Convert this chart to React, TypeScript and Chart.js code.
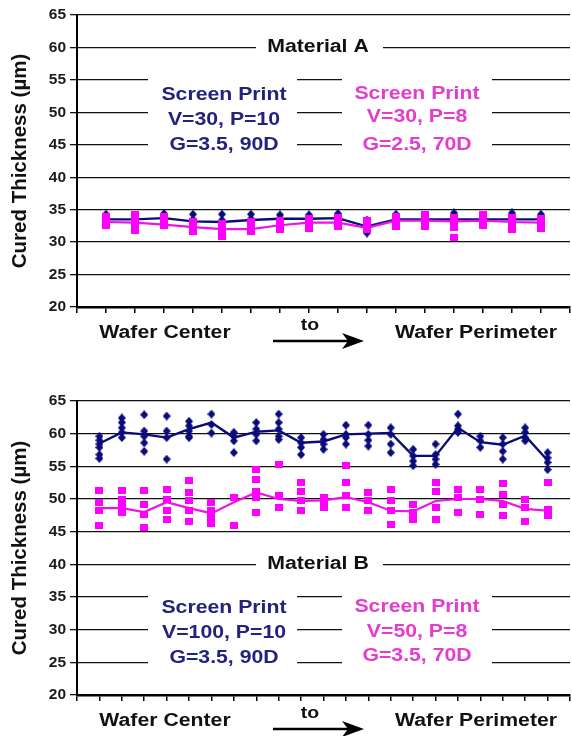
import React, { useEffect, useRef } from 'react';
import { Chart, registerables } from 'chart.js';

Chart.register(...registerables);

// ---------------- DATA ----------------
// Material A (top panel): 16 positions from wafer center to perimeter
const topNavySamples: number[][] = [
  [34.3, 33.8, 33.3], [34.0, 33.5, 33.0], [34.4, 33.8, 33.2], [34.3, 33.5, 32.9],
  [34.3, 33.4, 32.8], [34.3, 33.6, 32.9, 32.3], [34.2, 33.7, 33.2], [34.2, 33.7, 33.1],
  [34.4, 33.8, 33.2], [33.4, 32.7, 32.0, 31.4], [34.3, 33.7, 33.1], [34.0, 33.5, 33.1],
  [34.5, 33.8, 33.2, 32.6], [34.0, 33.5, 33.0], [34.5, 33.8, 33.2], [34.3, 33.7, 33.1],
];
const topNavyMean: number[] = [33.5, 33.5, 33.7, 33.2, 33.1, 33.4, 33.6, 33.6, 33.7, 32.4, 33.5, 33.5, 33.5, 33.5, 33.5, 33.5];
const topMagentaSamples: number[][] = [
  [33.9, 33.3, 32.6], [34.3, 33.6, 32.9, 32.2, 31.8], [33.9, 33.2, 32.5], [33.1, 32.4, 31.6],
  [32.9, 32.2, 31.5, 30.9], [33.2, 32.4, 31.6], [33.3, 32.6, 32.0], [33.6, 32.8, 32.1],
  [33.8, 33.0, 32.4], [33.3, 32.5, 31.9], [34.0, 33.3, 32.4], [34.2, 33.4, 32.4],
  [33.8, 33.0, 32.2, 30.7], [34.2, 33.4, 32.5], [33.8, 33.0, 32.0], [33.7, 32.9, 32.1],
];
const topMagentaMean: number[] = [33.1, 33.0, 32.7, 32.3, 32.0, 32.0, 32.6, 33.0, 33.0, 32.2, 33.3, 33.3, 33.2, 33.3, 33.1, 33.0];

// Material B (bottom panel): 21 positions
const bottomNavySamples: number[][] = [
  [59.6, 59.0, 58.4, 57.9, 56.8, 56.2], [62.4, 61.7, 60.9, 60.2, 59.4], [62.9, 60.4, 59.6, 58.6, 57.3],
  [62.7, 60.4, 59.4, 56.1], [61.9, 61.2, 60.4, 59.6, 59.4], [63.0, 61.4, 60.1], [60.2, 59.6, 58.9, 57.1],
  [61.7, 60.7, 59.9, 58.9], [63.0, 61.7, 60.7, 59.6, 59.1], [59.4, 58.6, 57.9, 56.8], [59.9, 59.1, 58.4, 57.6],
  [61.3, 59.9, 59.4, 58.4], [61.3, 59.9, 59.0, 58.1], [60.9, 59.9, 58.4, 57.1], [57.6, 56.6, 55.8, 55.1],
  [58.4, 56.8, 56.1, 55.3], [63.0, 61.2, 60.7, 60.2], [59.6, 58.9, 57.9], [59.4, 58.4, 57.3, 56.1],
  [60.9, 60.2, 59.4, 58.9], [57.1, 56.3, 55.6, 54.5],
];
const bottomNavyMean: number[] = [58.5, 60.2, 59.9, 59.4, 60.7, 61.7, 59.4, 60.3, 60.5, 58.6, 58.8, 59.9, 60.0, 60.1, 56.6, 56.6, 60.9, 58.7, 58.3, 59.7, 55.9];
const bottomMagentaSamples: number[][] = [
  [51.3, 49.4, 48.2, 45.9], [51.3, 50.0, 48.9, 47.9], [51.3, 49.2, 47.7, 45.6], [51.5, 50.0, 48.2, 46.9],
  [52.8, 51.0, 49.7, 48.2, 46.6], [49.4, 48.2, 47.1, 46.3], [50.2, 45.9], [54.5, 53.0, 51.2, 50.2, 47.9],
  [55.3, 50.5, 48.7], [52.5, 51.2, 49.7, 48.2], [50.2, 49.5, 48.7], [55.1, 52.5, 50.5, 48.7],
  [51.0, 49.7, 48.2], [51.5, 49.7, 48.2, 46.1], [49.2, 47.9, 46.9], [52.5, 51.2, 48.7, 46.9],
  [51.5, 50.2, 47.9], [51.5, 50.0, 47.7], [52.3, 50.7, 49.2, 47.4], [50.0, 48.7, 46.6], [52.5, 48.4, 47.4],
];
const bottomMagentaMean: number[] = [48.6, 48.6, 48.0, 49.5, 48.6, 47.8, 49.5, 51.0, 50.0, 49.7, 49.8, 50.3, 49.5, 48.2, 48.1, 49.7, 50.0, 50.0, 49.7, 48.5, 48.2];

// Text
const yAxisTitle = 'Cured Thickness (µm)';
const xLeftLabel = 'Wafer Center';
const xMidLabel = 'to';
const xRightLabel = 'Wafer Perimeter';
const topMaterial = 'Material A';
const bottomMaterial = 'Material B';
const topNavyText = ['Screen Print', 'V=30, P=10', 'G=3.5, 90D'];
const topMagentaText = ['Screen Print', 'V=30, P=8', 'G=2.5, 70D'];
const bottomNavyText = ['Screen Print', 'V=100, P=10', 'G=3.5, 90D'];
const bottomMagentaText = ['Screen Print', 'V=50, P=8', 'G=3.5, 70D'];
const yMin = 20;
const yMax = 65;
const yStep = 5;

// ---------------- STYLE ----------------
const NAVY = '#0b0b7a';
const NAVY_TEXT = '#23237e';
const MAGENTA = '#ff00ff';
const MAGENTA_LINE = '#f010ec';
const MAGENTA_TEXT = '#e43cce';
const FONT = '"Liberation Sans", Arial, sans-serif';
const SX = 1.18;

type Panel = {
  navySamples: number[][];
  navyMean: number[];
  magSamples: number[][];
  magMean: number[];
  material: string;
  materialValue: number;
  navyText: string[];
  navyTextValues: number[];
  magText: string[];
  magTextValues: number[];
  boxValues: [number, number];
  canvasTop: number;
  canvasHeight: number;
  padTop: number;
  padBottom: number;
  markerScale: number;
};

function makeMarker(shape: 'diamond' | 'rect', w: number, h: number, color: string) {
  const c = document.createElement('canvas');
  c.width = w;
  c.height = h;
  const ctx = c.getContext('2d')!;
  ctx.fillStyle = color;
  if (shape === 'diamond') {
    ctx.beginPath();
    ctx.moveTo(w / 2, 0);
    ctx.lineTo(w, h / 2);
    ctx.lineTo(w / 2, h);
    ctx.lineTo(0, h / 2);
    ctx.closePath();
    ctx.fill();
  } else {
    ctx.fillRect(0, 0, w, h);
  }
  return c;
}

function sText(ctx: CanvasRenderingContext2D, text: string, cx: number, cy: number, color: string, size: number, sx = SX) {
  ctx.save();
  ctx.translate(cx, cy);
  ctx.scale(sx, 1);
  ctx.font = `bold ${size}px ${FONT}`;
  ctx.fillStyle = color;
  ctx.textAlign = 'center';
  ctx.textBaseline = 'middle';
  ctx.fillText(text, 0, 0);
  ctx.restore();
}

function buildChart(canvas: HTMLCanvasElement, p: Panel) {
  const n = p.navyMean.length;
  const big = p.markerScale;
  const diamond = makeMarker('diamond', 8, 9, NAVY);
  const square = makeMarker('rect', 8, big ? 7 : 7, MAGENTA);
  const toPts = (cols: number[][]) => cols.flatMap((col, i) => col.map((v) => ({ x: i + 1, y: v })));
  const toLine = (arr: number[]) => arr.map((v, i) => ({ x: i + 1, y: v }));

  const annot = {
    id: 'annot',
    beforeDatasetsDraw(chart: any) {
      const ctx: CanvasRenderingContext2D = chart.ctx;
      const ys = chart.scales.y;
      ctx.save();
      ctx.fillStyle = '#ffffff';
      const mY = ys.getPixelForValue(p.materialValue);
      ctx.fillRect(256, mY - 9, 127, 18);
      const b0 = ys.getPixelForValue(p.boxValues[0]);
      const b1 = ys.getPixelForValue(p.boxValues[1]);
      ctx.fillRect(148, b0, 149, b1 - b0);
      ctx.fillRect(342, b0, 150, b1 - b0);
      ctx.restore();
      sText(ctx, p.material, 318, mY, '#111111', 18);
      p.navyText.forEach((t, i) => sText(ctx, t, 224, ys.getPixelForValue(p.navyTextValues[i]), NAVY_TEXT, 18));
      p.magText.forEach((t, i) => sText(ctx, t, 417, ys.getPixelForValue(p.magTextValues[i]), MAGENTA_TEXT, 18));
    },
    afterDraw(chart: any) {
      const ctx: CanvasRenderingContext2D = chart.ctx;
      const ca = chart.chartArea;
      ctx.save();
      ctx.translate(20, (ca.top + ca.bottom) / 2);
      ctx.rotate(-Math.PI / 2);
      ctx.font = `bold 20.5px ${FONT}`;
      ctx.fillStyle = '#111111';
      ctx.textAlign = 'center';
      ctx.textBaseline = 'middle';
      ctx.fillText(yAxisTitle, 0, 0);
      ctx.restore();
      const b = ca.bottom;
      sText(ctx, xLeftLabel, 165, b + 26, '#111111', 18);
      sText(ctx, xRightLabel, 476, b + 26, '#111111', 18);
      sText(ctx, xMidLabel, 310, b + 18, '#111111', 16.5);
      const ay = b + 34;
      ctx.save();
      ctx.strokeStyle = '#000';
      ctx.lineWidth = 2.5;
      ctx.beginPath();
      ctx.moveTo(273, ay);
      ctx.lineTo(350, ay);
      ctx.stroke();
      ctx.fillStyle = '#000';
      ctx.beginPath();
      ctx.moveTo(364, ay);
      ctx.lineTo(342, ay - 8);
      ctx.lineTo(348, ay);
      ctx.lineTo(342, ay + 8);
      ctx.closePath();
      ctx.fill();
      ctx.restore();
    },
  };

  return new Chart(canvas, {
    type: 'scatter',
    data: {
      datasets: [
        {
          label: 'magenta',
          data: toPts(p.magSamples),
          pointStyle: square as any,
          pointRadius: 4,
          order: 0,
        },
        {
          label: 'magenta mean',
          data: toLine(p.magMean),
          showLine: true,
          borderColor: MAGENTA_LINE,
          borderWidth: 2.2,
          pointRadius: 0,
          order: 1,
        },
        {
          label: 'navy',
          data: toPts(p.navySamples),
          pointStyle: diamond as any,
          pointRadius: 4,
          order: 2,
        },
        {
          label: 'navy mean',
          data: toLine(p.navyMean),
          showLine: true,
          borderColor: NAVY,
          borderWidth: 2.4,
          pointRadius: 0,
          order: 3,
        },
      ],
    },
    options: {
      responsive: false,
      animation: false,
      events: [],
      layout: { padding: { top: p.padTop, bottom: p.padBottom, left: 0, right: 0 } },
      plugins: { legend: { display: false }, tooltip: { enabled: false } },
      scales: {
        x: {
          type: 'linear',
          min: 0,
          max: n + 1,
          ticks: { stepSize: 1, display: false },
          grid: { drawOnChartArea: false, drawTicks: true, tickLength: 6, color: '#000', lineWidth: 1.5 },
          border: { color: '#000', width: 2.5 },
        },
        y: {
          min: yMin,
          max: yMax,
          ticks: {
            stepSize: yStep,
            color: '#1a1a1a',
            padding: 4,
            font: { family: FONT, size: 15.5, weight: 'bold' },
          },
          grid: { color: '#111', lineWidth: 1.3, tickLength: 7 },
          border: { color: '#000', width: 2 },
          afterFit: (s: any) => {
            s.width = 77;
          },
        },
      },
    },
    plugins: [annot],
  } as any);
}

const panels: Panel[] = [
  {
    navySamples: topNavySamples,
    navyMean: topNavyMean,
    magSamples: topMagentaSamples,
    magMean: topMagentaMean,
    material: topMaterial,
    materialValue: 60,
    navyText: topNavyText,
    navyTextValues: [52.7, 48.8, 45.0],
    magText: topMagentaText,
    magTextValues: [52.8, 49.2, 45.0],
    boxValues: [56.6, 43.4],
    canvasTop: 0,
    canvasHeight: 365,
    padTop: 15,
    padBottom: 52,
    markerScale: 1,
  },
  {
    navySamples: bottomNavySamples,
    navyMean: bottomNavyMean,
    magSamples: bottomMagentaSamples,
    magMean: bottomMagentaMean,
    material: bottomMaterial,
    materialValue: 40,
    navyText: bottomNavyText,
    navyTextValues: [33.3, 29.5, 25.7],
    magText: bottomMagentaText,
    magTextValues: [33.5, 29.6, 26.0],
    boxValues: [36.6, 23.4],
    canvasTop: 378,
    canvasHeight: 358,
    padTop: 23,
    padBottom: 35,
    markerScale: 0,
  },
];

function Panel({ p }: { p: Panel }) {
  const ref = useRef<HTMLCanvasElement>(null);
  useEffect(() => {
    if (!ref.current) return;
    const chart = buildChart(ref.current, p);
    return () => chart.destroy();
  }, [p]);
  return (
    <canvas
      ref={ref}
      width={575}
      height={p.canvasHeight}
      style={{ position: 'absolute', left: 0, top: p.canvasTop, width: 575, height: p.canvasHeight, display: 'block' }}
    />
  );
}

export default function App() {
  return (
    <div style={{ position: 'fixed', left: 0, top: 0, width: 572, height: 736, overflow: 'hidden', background: '#fff' }}>
      {panels.map((p, i) => (
        <Panel key={i} p={p} />
      ))}
    </div>
  );
}
